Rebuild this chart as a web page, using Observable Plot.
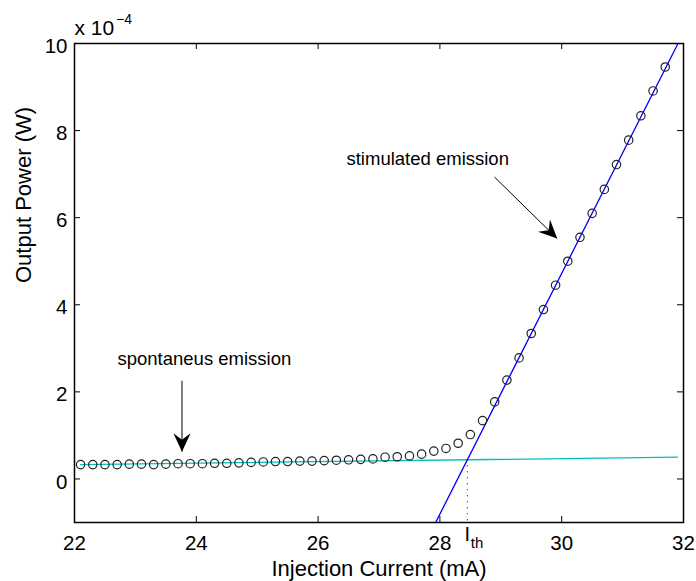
<!DOCTYPE html>
<html>
<head>
<meta charset="utf-8">
<script src="https://cdn.jsdelivr.net/npm/d3@7"></script>
<script src="https://cdn.jsdelivr.net/npm/@observablehq/plot@0.6"></script>
<style>
  body { margin: 0; background: #fff; }
  svg { display: block; }
</style>
</head>
<body>
<div id="chart"></div>
<script>
// Measured L-I curve: injection current (mA) vs output power (x 1e-4 W)
const current = [22.1, 22.3, 22.5, 22.7, 22.9, 23.1, 23.3, 23.5, 23.7, 23.9,
                 24.1, 24.3, 24.5, 24.7, 24.9, 25.1, 25.3, 25.5, 25.7, 25.9,
                 26.1, 26.3, 26.5, 26.7, 26.9, 27.1, 27.3, 27.5, 27.7, 27.9,
                 28.1, 28.3, 28.5, 28.7, 28.9, 29.1, 29.3, 29.5, 29.7, 29.9,
                 30.1, 30.3, 30.5, 30.7, 30.9, 31.1, 31.3, 31.5, 31.7];
const power = [0.33, 0.33, 0.33, 0.33, 0.34, 0.34, 0.33, 0.34, 0.35, 0.35,
               0.35, 0.36, 0.36, 0.37, 0.38, 0.39, 0.40, 0.40, 0.41, 0.41,
               0.42, 0.43, 0.44, 0.45, 0.46, 0.50, 0.51, 0.53, 0.57, 0.64,
               0.70, 0.82, 1.02, 1.34, 1.77, 2.27, 2.78, 3.34, 3.89, 4.45,
               5.00, 5.55, 6.10, 6.65, 7.22, 7.78, 8.34, 8.91, 9.46];

// Fitted lines below and above threshold
const spontX = [22.1, 31.9];
const spontY = [0.33, 0.50];
const stimX = [27.93, 31.91];
const stimY = [-1, 10];

// Threshold current and the power where the two fits cross
const Ith = 28.45;
const Pth = 0.44;

// Tick values
const xTicks = [22, 24, 26, 28, 30, 32];
const yTicks = [0, 2, 4, 6, 8, 10];

// Annotation arrows (tail -> head) and labels
const arrowX1 = [23.765, 28.897];
const arrowY1 = [2.255, 6.933];
const arrowX2 = [23.765, 29.926];
const arrowY2 = [0.626, 5.52];
const labelText = ["spontaneus emission", "stimulated emission"];
const labelX = [22.706, 26.466];
const labelY = [2.615, 7.20];

const W = 696, H = 581;
const mL = 74, mR = 13, mT = 43, mB = 59;
const innerW = W - mL - mR, innerH = H - mT - mB;
const tickLen = 6;
const font = "'Liberation Sans', Arial, Helvetica, sans-serif";

const points = current.map((x, i) => ({x, y: power[i]}));
const spont = spontX.map((x, i) => ({x, y: spontY[i]}));
const stim = stimX.map((x, i) => ({x, y: stimY[i]}));
const arrows = arrowX1.map((x1, i) => ({x1, y1: arrowY1[i], x2: arrowX2[i], y2: arrowY2[i]}));
const labels = labelText.map((t, i) => ({t, x: labelX[i], y: labelY[i]}));

// Filled, notched arrowhead
function headMarker() {
  const m = d3.create("svg:marker")
    .attr("viewBox", "-20 -10 20 20")
    .attr("markerWidth", 20)
    .attr("markerHeight", 20)
    .attr("markerUnits", "userSpaceOnUse")
    .attr("refX", 0)
    .attr("refY", 0)
    .attr("orient", "auto");
  m.append("path")
    .attr("d", "M0,0L-18.5,-8.6L-12,0L-18.5,8.6Z")
    .attr("fill", "black")
    .attr("stroke", "none");
  return m.node();
}

const chart = Plot.plot({
  width: W,
  height: H,
  marginLeft: mL,
  marginRight: mR,
  marginTop: mT,
  marginBottom: mB,
  style: {fontFamily: font, fontSize: "20px", background: "#fff", color: "#000"},
  x: {domain: [22, 32]},
  y: {domain: [-1, 10]},
  marks: [
    Plot.line(spont, {x: "x", y: "y", stroke: "#00bfbf", strokeWidth: 1.3, clip: true}),
    Plot.line(stim, {x: "x", y: "y", stroke: "#0000ff", strokeWidth: 1.3, clip: true}),
    Plot.ruleX([{x: Ith, y1: Pth, y2: -1}], {x: "x", y1: "y1", y2: "y2", stroke: "#000", strokeWidth: 1, strokeDasharray: "1,5"}),
    Plot.dot(points, {x: "x", y: "y", r: 4.2, stroke: "#222", strokeWidth: 1.2, fill: "none"}),
    Plot.link(arrows, {x1: "x1", y1: "y1", x2: "x2", y2: "y2", stroke: "#000", strokeWidth: 1, markerEnd: headMarker}),
    Plot.text(labels, {x: "x", y: "y", text: "t", textAnchor: "start", lineAnchor: "bottom", fontSize: 18.5, fill: "#000"}),
    // inward ticks on all four sides
    Plot.ruleX(xTicks, {x: d => d, insetTop: innerH - tickLen, stroke: "#000"}),
    Plot.ruleX(xTicks, {x: d => d, insetBottom: innerH - tickLen, stroke: "#000"}),
    Plot.ruleY(yTicks, {y: d => d, insetRight: innerW - tickLen, stroke: "#000"}),
    Plot.ruleY(yTicks, {y: d => d, insetLeft: innerW - tickLen, stroke: "#000"}),
    Plot.frame({stroke: "#000", strokeWidth: 1.5}),
    Plot.axisX({ticks: xTicks, tickSize: 0, tickPadding: 13, fontSize: 20.5, label: null}),
    Plot.axisY({ticks: yTicks, tickSize: 0, tickPadding: 7, fontSize: 20.5, dy: 3, label: null}),
    // threshold label I_th under the axis
    Plot.text([Ith], {x: d => d, text: () => "I", frameAnchor: "bottom", dy: 18.7, lineAnchor: "bottom", textAnchor: "middle", fontSize: 20}),
    Plot.text([Ith], {x: d => d, text: () => "th", frameAnchor: "bottom", dx: 3.5, dy: 25, lineAnchor: "bottom", textAnchor: "start", fontSize: 15}),
    // axis titles
    Plot.text(["Injection Current (mA)"], {text: d => d, frameAnchor: "bottom", dy: 53, lineAnchor: "bottom", fontSize: 22}),
    Plot.text(["Output Power (W)"], {text: d => d, frameAnchor: "left", dx: -44, rotate: -90, lineAnchor: "bottom", fontSize: 22}),
    // exponent of the y axis
    Plot.text(["x 10"], {text: d => d, frameAnchor: "top-left", dy: -8.7, lineAnchor: "bottom", textAnchor: "start", fontSize: 21}),
    Plot.text(["\u22124"], {text: d => d, frameAnchor: "top-left", dx: 41.5, dy: -20, lineAnchor: "bottom", textAnchor: "start", fontSize: 14})
  ]
});

document.getElementById("chart").appendChild(chart);
</script>
</body>
</html>
